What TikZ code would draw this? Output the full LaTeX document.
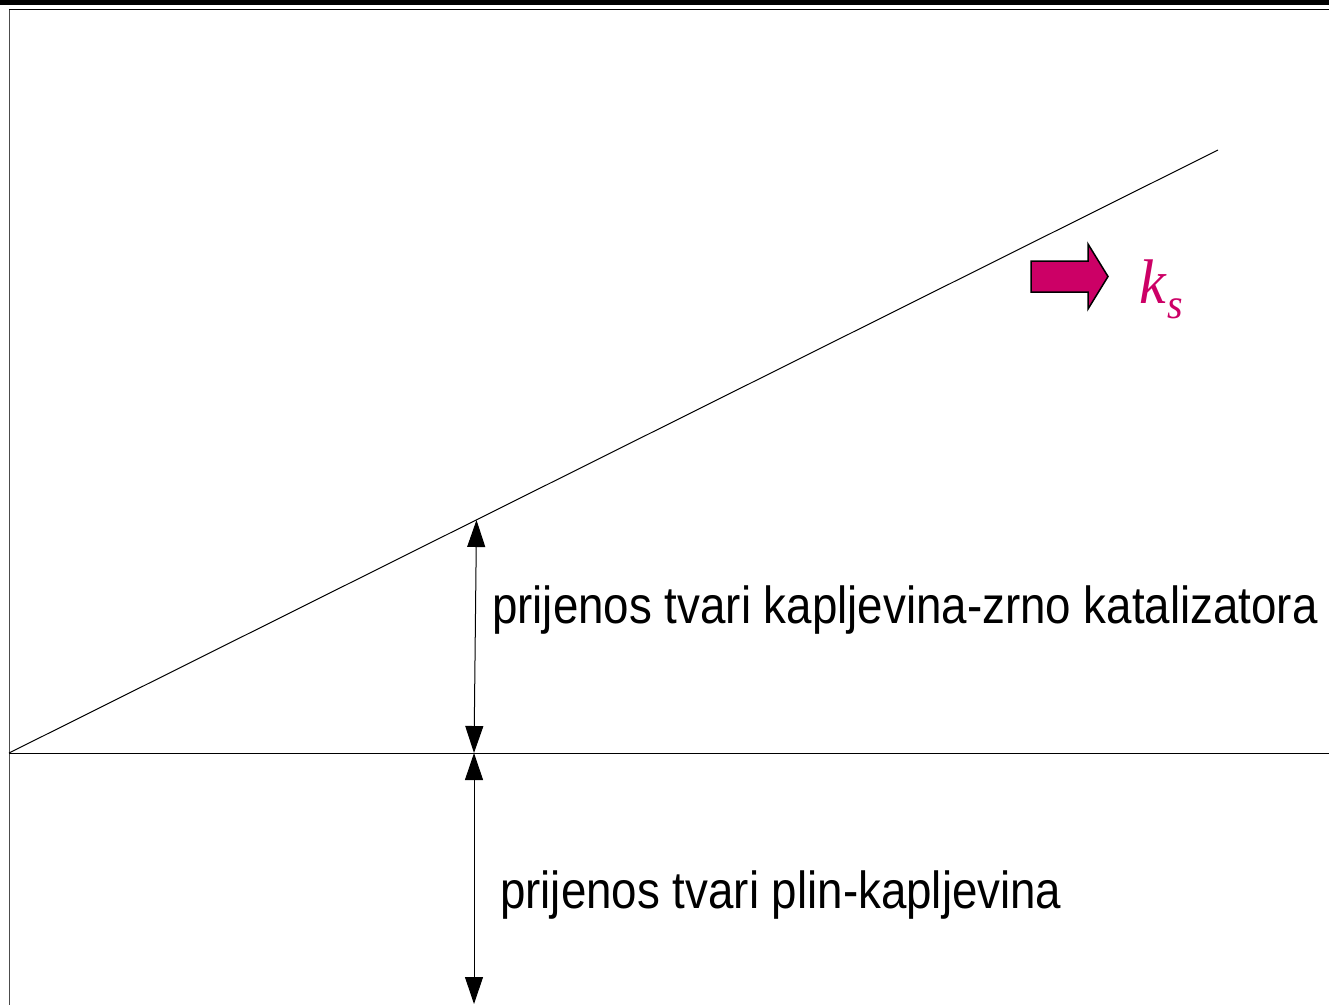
\documentclass[tikz,border=0pt]{standalone}
\usepackage{fontspec}
\setmainfont{Liberation Sans}
\newfontfamily\serifit{Liberation Serif}
\usetikzlibrary{arrows.meta}
\definecolor{flowpink}{RGB}{204,0,102}
\tikzset{
  thinline/.style={line width=1pt, black},
  dimarrow/.style={line width=1pt, {Triangle[length=27pt,width=18pt]}-{Triangle[length=27pt,width=18pt]}},
  labeltext/.style={anchor=base west, inner sep=0pt, font=\fontsize{45.7}{50}\selectfont},
}
\begin{document}
\begin{tikzpicture}[x=1pt,y=-1pt]
\useasboundingbox (0,0) rectangle (1329,1005);
% frame
\fill[black] (0,0) rectangle (1329,5);
\draw[line width=1.6pt] (9,9.5) -- (1329,9.5);
\draw[line width=1pt, black!70] (9,9.5) -- (9,1005);
% geometry
\coordinate (O) at (9,753);
\coordinate (D) at (1218,150);
\coordinate (E) at (1329,753);
\coordinate (A) at (476.5,520);
\coordinate (B) at (474,753);
\coordinate (C) at (474,1004);
\draw[thinline] (O) -- (D);
\draw[thinline] (O) -- (E);
\draw[dimarrow] (A) -- (B);
\draw[dimarrow] (B) -- (C);
% labels
\node[labeltext] (t1) at (492,623) {\scalebox{1}[1.14]{prijenos tvari kapljevina-zrno katalizatora}};
\node[labeltext] (t2) at (500,908) {\scalebox{1}[1.14]{prijenos tvari plin-kapljevina}};
% block arrow
\draw[fill=flowpink, draw=black, line width=1.5pt, line join=miter]
  (1031,261) -- (1088,261) -- (1088,244) -- (1108,276.5) -- (1088,309) -- (1088,292) -- (1031,292) -- cycle;
\node[anchor=base west, inner sep=0pt, text=flowpink] (ks) at (1139,303)
  {\scalebox{1}[1.05]{\serifit\itshape\fontsize{60}{64}\selectfont k\kern2pt\raisebox{-15pt}{\fontsize{40}{44}\selectfont s}}};
\end{tikzpicture}
\end{document}
